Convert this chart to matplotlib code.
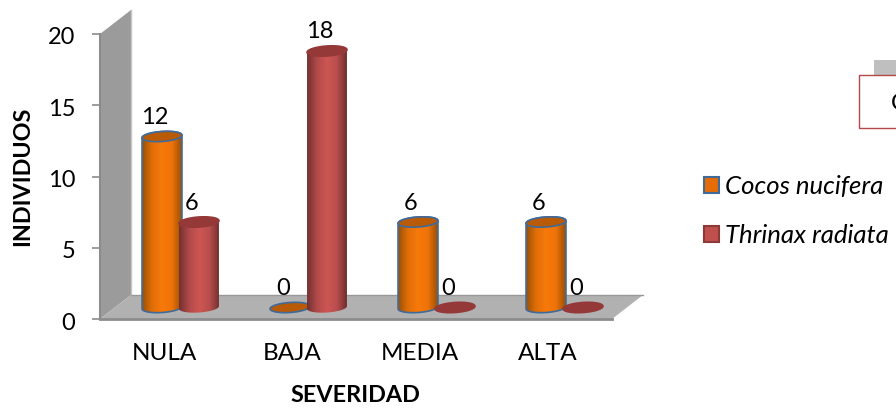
import matplotlib
matplotlib.use('Agg')
import matplotlib.pyplot as plt
import numpy as np
from matplotlib.colors import LinearSegmentedColormap
from matplotlib.patches import Patch, Polygon, Rectangle
from matplotlib.transforms import ScaledTranslation

plt.rcParams['font.family'] = ['Lato', 'DejaVu Sans']

categories = ['NULA', 'BAJA', 'MEDIA', 'ALTA']
cocos = [12, 0, 6, 6]
thrinax = [6, 18, 0, 0]
series_names = ['Cocos nucifera', 'Thrinax radiata']
yticks = [0, 5, 10, 15, 20]

W, H = 896, 409
fig = plt.figure(figsize=(W / 100, H / 100), dpi=100)

# axes box is the front edge of the 3d frame
left, right, top, bottom = 100, 612, 34, 319
ax = fig.add_axes([left / W, 1 - bottom / H, (right - left) / W, (bottom - top) / H])
ax.set_xlim(-0.5, 3.5)
ax.set_ylim(0, 20)

# pixel sizes -> data units, easier to think about the depth this way
ux = 4.0 / (right - left)
uy = 20.0 / (bottom - top)
depth_x, depth_y = 31 * ux, 24 * uy


def cyl_outline(xc, yc, a=20, b=5, tilt=4, t0=0, t1=2 * np.pi):
    t = np.linspace(t0, t1, 60)
    r = np.radians(tilt)
    ex = a * np.cos(t)
    ey = b * np.sin(t)
    return np.column_stack([xc + (ex * np.cos(r) - ey * np.sin(r)) * ux,
                            yc + (ex * np.sin(r) + ey * np.cos(r)) * uy])


def draw_cylinder(xc, value, cmap, cap, edge, base_edge, z):
    yb = 11.5 * uy
    yt = yb + value
    if value > 0:
        body = np.vstack([cyl_outline(xc, yb, t0=np.pi, t1=2 * np.pi),
                          cyl_outline(xc, yt, t0=0, t1=np.pi)])
        poly = Polygon(body, closed=True, transform=ax.transData,
                       facecolor='none', edgecolor=edge, lw=1.2, zorder=z + 0.2,
                       clip_on=False)
        grad = np.linspace(0, 1, 128).reshape(1, -1)
        im = ax.imshow(grad, cmap=cmap, aspect='auto', zorder=z + 0.1,
                       extent=(xc - 20 * ux, xc + 20 * ux, yb - 8 * uy, yt + 8 * uy))
        ax.add_patch(poly)
        im.set_clip_path(poly)
    lid = Polygon(cyl_outline(xc, yt), closed=True, facecolor=cap, edgecolor=base_edge,
                  lw=1.2, zorder=z + 0.3, clip_on=False)
    ax.add_patch(lid)


orange_map = LinearSegmentedColormap.from_list('o', ['#995005', '#e06e07', '#f8790a', '#ee7308', '#995005'])
red_map = LinearSegmentedColormap.from_list('r', ['#74302f', '#b04a49', '#cd5654', '#b84e4d', '#6e2d2c'])

# side wall and floor
wall = [(-0.5, 0), (-0.5 + depth_x, depth_y), (-0.5 + depth_x, 20 + depth_y), (-0.5, 20)]
ax.add_patch(Polygon(wall, closed=True, facecolor='#9b9b9b', edgecolor='none', clip_on=False, zorder=1))
ax.plot([-0.5 + depth_x] * 2, [depth_y, 20 + depth_y], color='#c4c4c4', lw=1, clip_on=False, zorder=1.1)
floor = [(-0.5, 0), (3.5, 0), (3.5 + depth_x, depth_y), (-0.5 + depth_x, depth_y)]
ax.add_patch(Polygon(floor, closed=True, facecolor='#b1b1b1', edgecolor='none', clip_on=False, zorder=1))
ax.plot([-0.5 + depth_x, 3.5 + depth_x], [depth_y, depth_y], color='#989898', lw=1, clip_on=False, zorder=1.2)
ax.plot([-0.5, 3.5], [0, 0], color='#8c8c8c', lw=2, clip_on=False, zorder=1.3)
ax.plot([-0.5, -0.5], [0, 20], color='#8c8c8c', lw=1.5, clip_on=False, zorder=1.3)

# bars and their value labels
for i in range(len(categories)):
    xo = i - 2 * ux
    xr = i + 35 * ux
    draw_cylinder(xo, cocos[i], orange_map, '#b85a06', '#3f6a9a', '#3f6a9a', 2 + i * 2)
    draw_cylinder(xr, thrinax[i], red_map, '#943838', 'none', '#943838', 3 + i * 2)
    ax.text(xo - 7 * ux, cocos[i] + 11.5 * uy + 19 * uy, str(cocos[i]), ha='center', va='center',
            fontsize=17, color='black', zorder=20, clip_on=False)
    ax.text(xr - 7 * ux, thrinax[i] + 11.5 * uy + 19 * uy, str(thrinax[i]), ha='center', va='center',
            fontsize=17, color='black', zorder=20, clip_on=False)

ax.set_xticks(range(len(categories)))
ax.set_xticklabels(categories, fontsize=17.5)
ax.set_yticks(yticks)
ax.set_yticklabels([str(v) for v in yticks], fontsize=17)
ax.tick_params(axis='x', length=0, pad=17)
ax.tick_params(axis='y', length=5.8, width=1.2, color='#8c8c8c', pad=12)
# y numbers sit a little under their tick marks
for lab in ax.get_yticklabels():
    lab.set_transform(lab.get_transform() + ScaledTranslation(0, -2 / 100, fig.dpi_scale_trans))
for s in ax.spines.values():
    s.set_visible(False)
ax.patch.set_alpha(0)

fig.text(23 / W, 1 - 176.5 / H, 'INDIVIDUOS', rotation=90, ha='center', va='center',
         fontsize=16.8, fontweight='bold')
fig.text(355 / W, 1 - 395 / H, 'SEVERIDAD', ha='center', va='center',
         fontsize=16.8, fontweight='bold')

handles = [Patch(facecolor='#e56c06', edgecolor='#3f6a9a', lw=1.5),
           Patch(facecolor='#c0504d', edgecolor='#8c3a38', lw=1.5)]
leg = fig.legend(handles, series_names, loc='upper left', bbox_to_anchor=(704 / W, 1 - 175 / H),
                 frameon=False, handlelength=0.58, handleheight=0.58,
                 handletextpad=0.22, labelspacing=1.0, borderpad=0, borderaxespad=0,
                 prop={'style': 'italic', 'size': 18.5})

# box running off the right side
fig.add_artist(Rectangle((874 / W, 1 - 75 / H), 22 / W, 15 / H, transform=fig.transFigure,
                         facecolor='#bfbfbf', edgecolor='none'))
fig.add_artist(Rectangle((858.5 / W, 1 - 127.5 / H), 60 / W, 52 / H, transform=fig.transFigure,
                         facecolor='white', edgecolor='#b5494a', lw=1.0))
fig.text(891 / W, 1 - 104 / H, 'C', ha='left', va='center', fontsize=17)

fig.savefig('out.png', dpi=100)
plt.close(fig)
